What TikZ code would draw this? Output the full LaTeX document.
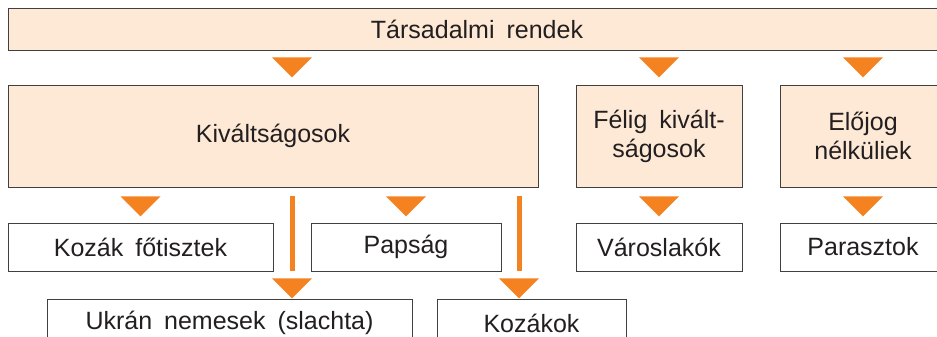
\documentclass[tikz,border=0pt]{standalone}
\usepackage{fontspec}
\setmainfont{Liberation Sans}
\usetikzlibrary{calc}

\definecolor{barack}{RGB}{253,233,214}
\definecolor{narancs}{RGB}{245,130,32}
\definecolor{keret}{RGB}{64,64,64}
\definecolor{betu}{RGB}{35,31,32}

\newcommand{\betumeret}{\fontsize{25bp}{29bp}\selectfont\spaceskip=12bp plus 2bp minus 1bp\relax}
\newcommand{\haromszog}[1]{\fill[narancs] (#1) ++(-20,0) -- ++(40,0) -- ++(-20,-20) -- cycle;}

\begin{document}
\begin{tikzpicture}[x=1bp,y=1bp,
    doboz/.style={draw=keret, line width=0.9bp, fill=white, text=betu, inner sep=0pt, align=center, font=\betumeret},
    rend/.style={doboz, fill=barack},
    vonal/.style={draw=narancs, line width=5bp}]

    \useasboundingbox (0,0) rectangle (937,336);
    \clip (0,0) rectangle (937,336);

    \node[rend, minimum width=938bp, minimum height=42bp] (rendek) at (477,307) {Társadalmi rendek};

    \node[rend, minimum width=530bp, minimum height=102bp] (kivalt) at (273,200) {Kiváltságosok};
    \node[rend, minimum width=166bp, minimum height=102bp] (felig) at (659,200) {Félig kivált-\\ságosok};
    \node[rend, minimum width=166bp, minimum height=102bp] (elojog) at (863,200) {Előjog\\nélküliek};

    \node[doboz, minimum width=265bp, minimum height=48bp] (kozak) at (140.5,89) {Kozák főtisztek};
    \node[doboz, minimum width=190bp, minimum height=48bp] (papsag) at (406,89) {Papság};
    \node[doboz, minimum width=166bp, minimum height=48bp] (varos) at (659,89) {Városlakók};
    \node[doboz, minimum width=166bp, minimum height=48bp] (paraszt) at (863,89) {Parasztok};

    \node[doboz, minimum width=365bp, minimum height=48bp] (ukran) at (229.5,13) {Ukrán nemesek (slachta)};
    \node[doboz, minimum width=189bp, minimum height=48bp] (kozakok) at (531.5,13) {Kozákok};

    \coordinate (sav1) at (292,0);
    \coordinate (sav2) at (519,0);

    \haromszog{$(rendek.south -| sav1)+(0,-7)$}
    \haromszog{$(rendek.south -| felig.north)+(0,-7)$}
    \haromszog{$(rendek.south -| elojog.north)+(0,-7)$}

    \haromszog{$(kivalt.south -| kozak.north)+(0,-9)$}
    \haromszog{$(kivalt.south -| papsag.north)+(0,-9)$}
    \haromszog{$(felig.south)+(0,-9)$}
    \haromszog{$(elojog.south)+(0,-9)$}

    \draw[vonal] ($(kivalt.south -| sav1)+(0,-9)$) -- (kozak.south -| sav1);
    \draw[vonal] ($(kivalt.south -| sav2)+(0,-9)$) -- (papsag.south -| sav2);
    \haromszog{$(kozak.south -| sav1)+(0,-7)$}
    \haromszog{$(papsag.south -| sav2)+(0,-7)$}

\end{tikzpicture}
\end{document}
